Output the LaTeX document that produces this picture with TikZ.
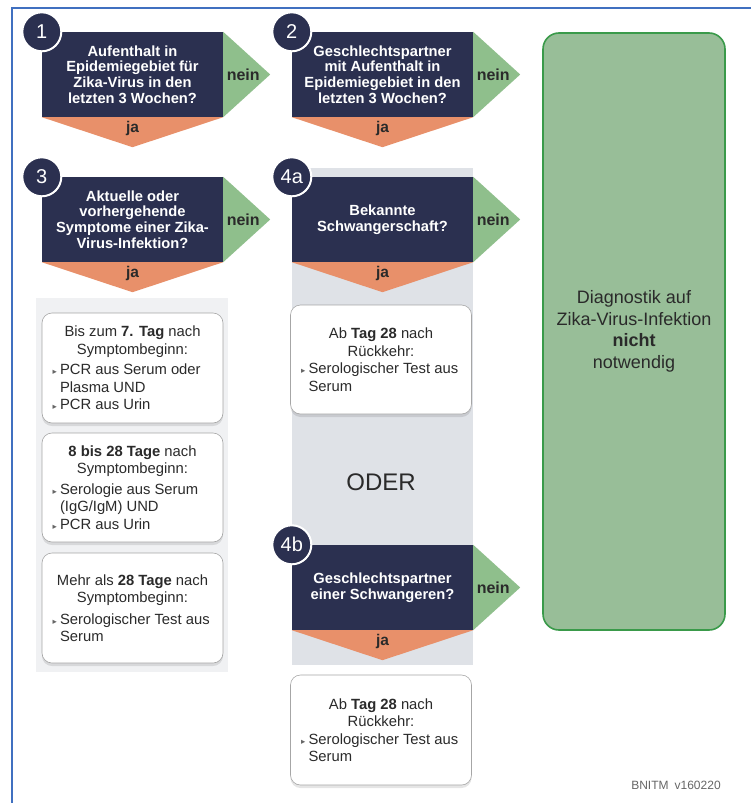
\documentclass[tikz,border=0pt]{standalone}
\usepackage{fontspec}
\setmainfont{Liberation Sans}
\newfontfamily\symfont{DejaVu Sans}
\usetikzlibrary{shadows}

\definecolor{navy}{HTML}{2B3050}
\definecolor{okgreen}{HTML}{8FBF8C}
\definecolor{jaorange}{HTML}{E8906A}
\definecolor{boxgreen}{HTML}{98BE98}
\definecolor{boxgreenline}{HTML}{3A9A4A}
\definecolor{panelmid}{HTML}{DFE2E7}
\definecolor{panelleft}{HTML}{F0F1F3}
\definecolor{txt}{HTML}{2A2A2A}
\definecolor{frameblue}{HTML}{4070C0}

% small grey arrow bullet hanging into the left margin
\newcommand{\bul}{\leavevmode\llap{{\symfont\fontsize{8.5}{8.5}\selectfont\color{gray!80!black}▸}\hspace{3pt}}}
% centred heading, gap, then bulleted lines
\newcommand{\restext}[3]{\parbox{181pt}{{\centering #1\par}\vspace{#2}{\raggedright\leftskip=18pt #3\par}}}

\tikzset{
  question/.style={fill=navy, text=white, font=\bfseries\fontsize{14.7}{15.8}\selectfont,
    align=center, minimum width=181pt, minimum height=85pt, inner sep=0pt},
  numdisc/.style={circle, fill=navy, draw=white, line width=2pt, minimum size=39pt,
    inner sep=0pt, text=white, font=\fontsize{20}{20}\selectfont},
  neinarrow/.style={fill=okgreen},
  jaarrow/.style={fill=jaorange},
  neinlabel/.style={text=txt, font=\bfseries\fontsize{16}{16}\selectfont, inner sep=0pt},
  jalabel/.style={text=txt, font=\bfseries\fontsize{15.5}{15.5}\selectfont, inner sep=0pt},
  result/.style={draw=gray!70, line width=0.6pt, fill=white, rounded corners=10pt,
    minimum width=181pt, inner sep=0pt, text=txt, font=\fontsize{14.8}{17.5}\selectfont,
    drop shadow={shadow xshift=0pt, shadow yshift=-3pt, fill=black, opacity=0.10}},
  finalbox/.style={draw=boxgreenline, line width=1.6pt, fill=boxgreen, rounded corners=16pt,
    minimum width=182pt, minimum height=597pt, align=center, text=txt,
    font=\fontsize{18}{21.5}\selectfont},
}

\begin{document}
\begin{tikzpicture}[x=1pt, y=-1pt]
\useasboundingbox (0,0) rectangle (751,803);
\fill[white] (0,0) rectangle (751,803);

% background panels
\fill[panelleft] (36,298) rectangle (228,672);
\fill[panelmid] (292,168) rectangle (473,665);

% outcome box
\node[finalbox] (none) at (634,331.5)
  {Diagnostik auf\\Zika-Virus-Infektion\\\textbf{nicht}\\notwendig};

% questions
\node[question] (q1) at (132.5,74.5) {Aufenthalt in\\Epidemiegebiet für\\Zika-Virus in den\\letzten 3 Wochen?};
\node[question] (q2) at (382.5,74.5) {Geschlechtspartner\\mit Aufenthalt in\\Epidemiegebiet in den\\letzten 3 Wochen?};
\node[question] (q3) at (132.5,219.5) {Aktuelle oder\\vorhergehende\\Symptome einer Zika-\\Virus-Infektion?};
\node[question] (q4a) at (382.5,219.5) {Bekannte\\Schwangerschaft?};
\node[question] (q4b) at (382.5,587.5) {Geschlechtspartner\\einer Schwangeren?};

% yes / no arrows
\foreach \q in {q1,q2,q3,q4a,q4b}{
  \fill[neinarrow] (\q.north east) -- ([xshift=47pt]\q.east) -- (\q.south east) -- cycle;
  \fill[jaarrow] (\q.south west) -- ([yshift=-30pt]\q.south) -- (\q.south east) -- cycle;
  \node[neinlabel] (\q-nein) at ([xshift=20pt]\q.east) {nein};
  \node[jalabel] (\q-ja) at ([yshift=-11pt]\q.south) {ja};
}

% step numbers
\node[numdisc] (c1) at (q1.north west) {1};
\node[numdisc] (c2) at (q2.north west) {2};
\node[numdisc] (c3) at (q3.north west) {3};
\node[numdisc] (c4a) at (q4a.north west) {4a};
\node[numdisc] (c4b) at (q4b.north west) {4b};

% test recommendations
\node[result, minimum height=110pt] (r1) at (132.5,368)
  {\restext{Bis zum \textbf{7. Tag} nach\\Symptombeginn:}{3pt}
    {\bul PCR aus Serum oder\\Plasma UND\par\bul PCR aus Urin}};
\node[result, minimum height=109pt] (r2) at (132.5,487.5)
  {\restext{\textbf{8 bis 28 Tage} nach\\Symptombeginn:}{3pt}
    {\bul Serologie aus Serum\\(IgG/IgM) UND\par\bul PCR aus Urin}};
\node[result, minimum height=110pt] (r3) at (132.5,608)
  {\restext{Mehr als \textbf{28 Tage} nach\\Symptombeginn:}{4pt}
    {\bul Serologischer Test aus\\Serum}};
\node[result, minimum height=109pt] (rA) at (381,359.5)
  {\restext{Ab \textbf{Tag 28} nach\\Rückkehr:}{0pt}
    {\bul Serologischer Test aus\\Serum}};
\node[result, minimum height=110pt] (rB) at (381,730)
  {\restext{Ab \textbf{Tag 28} nach\\Rückkehr:}{0pt}
    {\bul Serologischer Test aus\\Serum}};

\node[text=txt, font=\fontsize{24}{24}\selectfont] (oder) at (381,482) {ODER};

\node[text=gray!80!black, font=\fontsize{12}{12}\selectfont] (ver) at (676,785) {BNITM\hspace{6pt}v160220};

% frame
\draw[frameblue, line width=2pt] (12,803) -- (12,8) -- (751,8);
\end{tikzpicture}
\end{document}
